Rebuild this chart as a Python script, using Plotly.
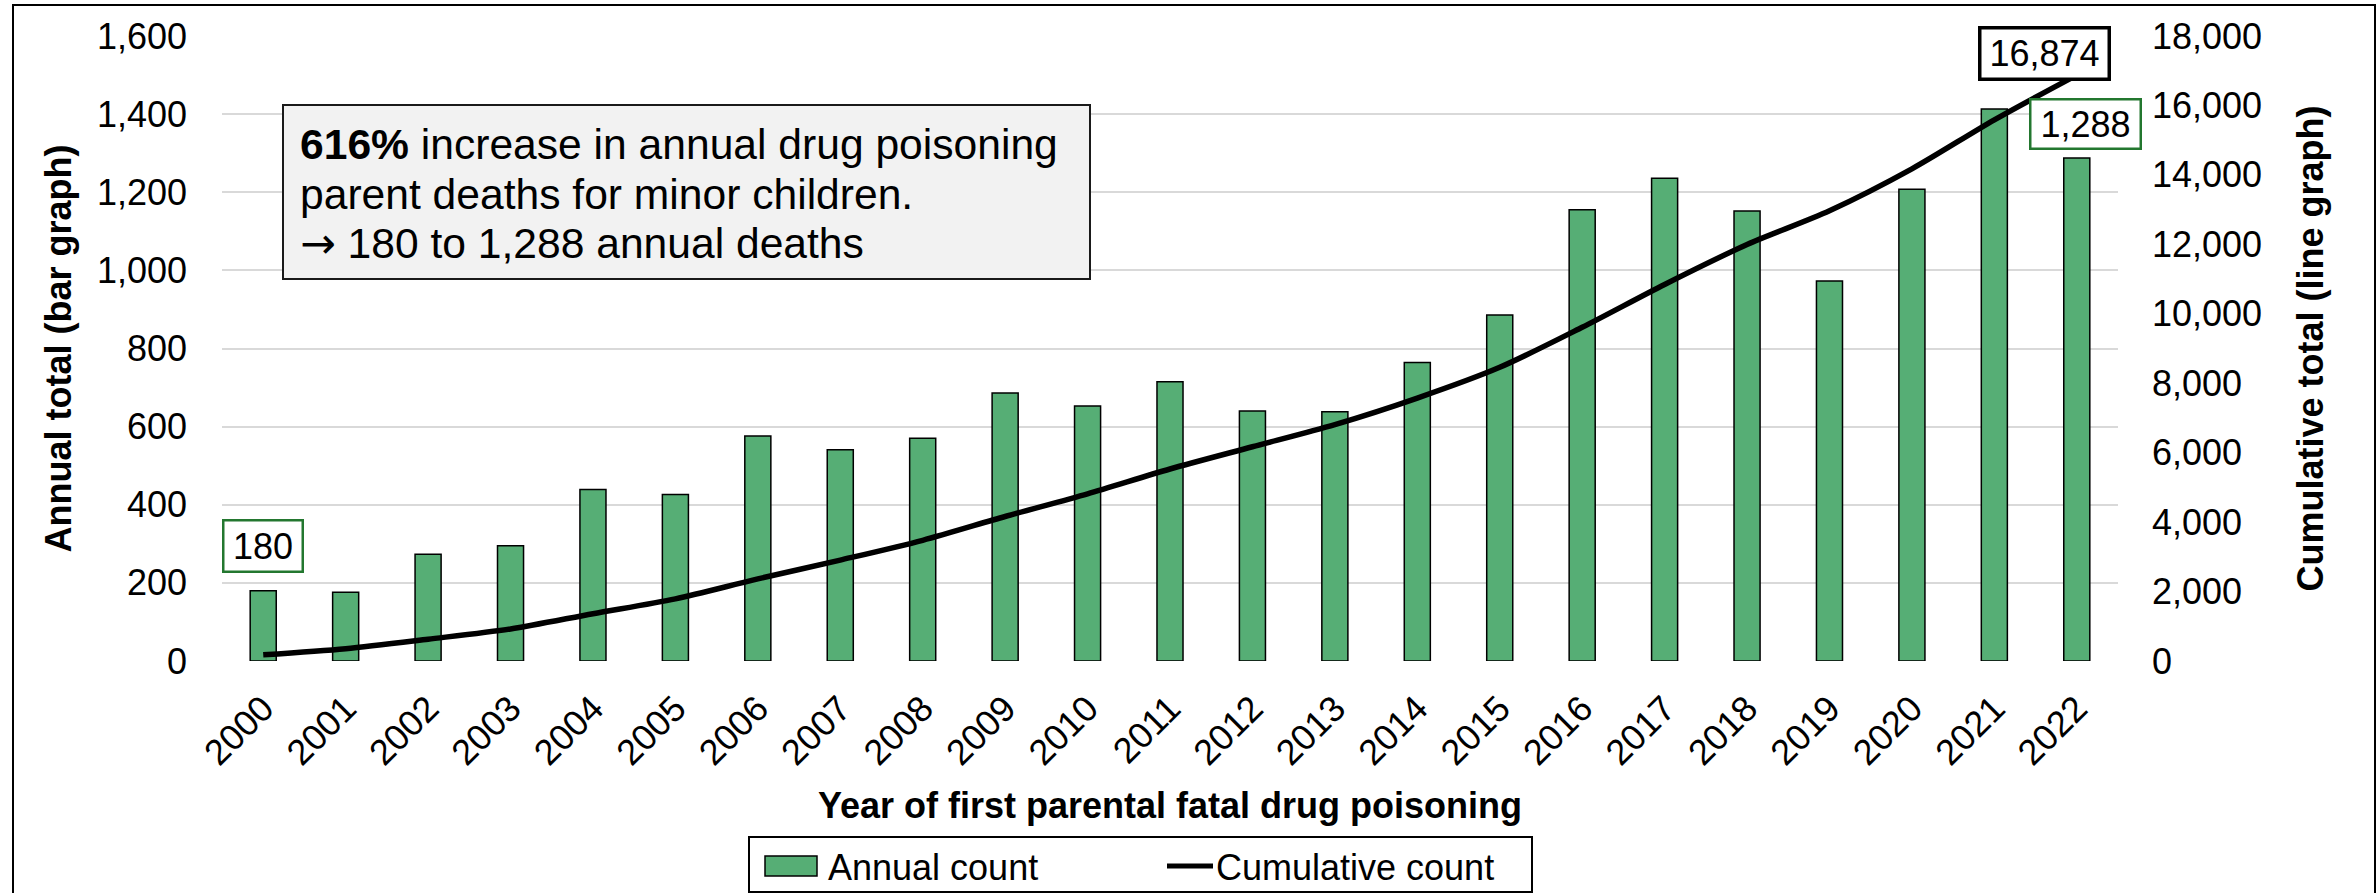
import plotly.graph_objects as go

# ---- data ----
years = [str(y) for y in range(2000, 2023)]
annual_count = [180, 176, 273, 295, 439, 426, 576, 541, 570, 686, 653, 715,
                640, 638, 764, 886, 1155, 1236, 1152, 973, 1208, 1413, 1288]
cumulative_count = [180, 356, 629, 924, 1363, 1789, 2365, 2906, 3476, 4162, 4815,
                    5530, 6170, 6808, 7572, 8458, 9611, 10845, 11995, 12967,
                    14174, 15586, 16874]
left_ticks = list(range(0, 1601, 200))
right_ticks = list(range(0, 18001, 2000))

# ---- canvas geometry (pixels) ----
W, H = 2377, 893
PL, PR, PT, PB = 222, 2118, 36, 661


def xp(px):
    return (px - PL) / (PR - PL)


def yp(py):
    return (PB - py) / (PB - PT)


FONT = "Arial, Liberation Sans, sans-serif"
GREEN = "#56AE75"
DARK_GREEN = "#23772F"

fig = go.Figure()

fig.add_trace(go.Bar(
    x=years, y=annual_count, name="Annual count",
    width=0.316,
    marker=dict(color=GREEN, line=dict(color="black", width=1.5)),
    yaxis="y", showlegend=False,
))

fig.add_trace(go.Scatter(
    x=years, y=cumulative_count, name="Cumulative count",
    mode="lines", line=dict(color="black", width=5.5, shape="spline", smoothing=0.8),
    yaxis="y2", showlegend=False,
))

tick_font = dict(family=FONT, size=36, color="black")
title_font = dict(family=FONT, size=36, color="black")

fig.update_layout(
    width=W, height=H, autosize=False,
    margin=dict(l=PL, r=W - PR, t=PT, b=H - PB, pad=0),
    paper_bgcolor="white", plot_bgcolor="white",
    font=dict(family=FONT, color="black"),
    xaxis=dict(
        type="category", categoryorder="array", categoryarray=years,
        range=[-0.5, len(years) - 0.5], autorange=False,
        tickangle=-45, tickfont=tick_font,
        showgrid=False, showline=False, zeroline=False, ticks="",
        ticklabelstandoff=18,
        title=dict(text="<b>Year of first parental fatal drug poisoning</b>",
                   font=title_font, standoff=20),
    ),
    yaxis=dict(
        range=[0, 1600], autorange=False, tickvals=left_ticks, tickformat=",",
        tickfont=tick_font, showgrid=True, gridcolor="#d9d9d9", gridwidth=2,
        zeroline=False, showline=False, ticks="", ticklabelstandoff=34,
        title=dict(text="<b>Annual total (bar graph)</b>", font=title_font, standoff=14),
    ),
    yaxis2=dict(
        range=[0, 18000], autorange=False, tickvals=right_ticks, tickformat=",",
        tickfont=tick_font, overlaying="y", side="right",
        showgrid=False, zeroline=False, showline=False, ticks="",
        ticklabelstandoff=33,
        title=dict(text="<b>Cumulative total (line graph)</b>", font=title_font, standoff=36),
    ),
)

shapes = []
annotations = []

# outer frame
shapes.append(dict(type="rect", xref="paper", yref="paper",
                   x0=xp(13), x1=xp(2375), y0=yp(900), y1=yp(5),
                   line=dict(color="black", width=2), fillcolor="rgba(0,0,0,0)",
                   layer="below"))

# callout box
shapes.append(dict(type="rect", xref="paper", yref="paper",
                   x0=xp(283), x1=xp(1090), y0=yp(279), y1=yp(105),
                   line=dict(color="#1a1a1a", width=2), fillcolor="#f2f2f2"))
arrow = "<span style=\"font-family:'DejaVu Sans'\">\u2192</span>"
callout_lines = [
    "<b>616%</b> increase in annual drug poisoning",
    "parent deaths for minor children.",
    arrow + " 180 to 1,288 annual deaths",
]
for line_text, cy in zip(callout_lines, [144, 194, 243]):
    annotations.append(dict(xref="paper", yref="paper", x=xp(298), y=yp(cy),
                            xanchor="left", yanchor="middle", showarrow=False,
                            text=line_text, font=dict(family=FONT, size=42.6, color="black")))

# value labels (category axis positions are given by index)
first_i, last_i = 0, len(years) - 1
label_font = dict(family=FONT, size=36, color="black")
annotations.append(dict(xref="x", yref="y", x=first_i, y=annual_count[first_i],
                        text=f"{annual_count[first_i]:,}", showarrow=False,
                        xanchor="center", yanchor="bottom", yshift=18,
                        width=77, height=49, bgcolor="white",
                        bordercolor=DARK_GREEN, borderwidth=2.5, borderpad=0,
                        font=label_font))
annotations.append(dict(xref="x", yref="y", x=last_i, y=annual_count[last_i],
                        text=f"{annual_count[last_i]:,}", showarrow=False,
                        xanchor="center", yanchor="bottom", yshift=8, xshift=9,
                        width=108, height=47, bgcolor="white",
                        bordercolor=DARK_GREEN, borderwidth=2.5, borderpad=0,
                        font=label_font))
annotations.append(dict(xref="x", yref="y2", x=last_i, y=cumulative_count[last_i],
                        text=f"{cumulative_count[last_i]:,}", showarrow=False,
                        xanchor="center", yanchor="bottom", yshift=-6, xshift=-32,
                        width=126, height=48, bgcolor="white",
                        bordercolor="black", borderwidth=3.5, borderpad=0,
                        font=label_font))

# legend
shapes.append(dict(type="rect", xref="paper", yref="paper",
                   x0=xp(749), x1=xp(1532), y0=yp(892), y1=yp(837),
                   line=dict(color="black", width=2), fillcolor="white"))
shapes.append(dict(type="rect", xref="paper", yref="paper",
                   x0=xp(765), x1=xp(817), y0=yp(876), y1=yp(856),
                   line=dict(color="black", width=1.5), fillcolor=GREEN))
shapes.append(dict(type="line", xref="paper", yref="paper",
                   x0=xp(1167), x1=xp(1213), y0=yp(866), y1=yp(866),
                   line=dict(color="black", width=5)))
legend_font = dict(family=FONT, size=36, color="black")
annotations.append(dict(xref="paper", yref="paper", x=xp(826), y=yp(867),
                        xanchor="left", yanchor="middle", showarrow=False,
                        text="Annual count", font=legend_font))
annotations.append(dict(xref="paper", yref="paper", x=xp(1214), y=yp(867),
                        xanchor="left", yanchor="middle", showarrow=False,
                        text="Cumulative count", font=legend_font))

fig.update_layout(shapes=shapes, annotations=annotations)

fig.write_html("out.html")
